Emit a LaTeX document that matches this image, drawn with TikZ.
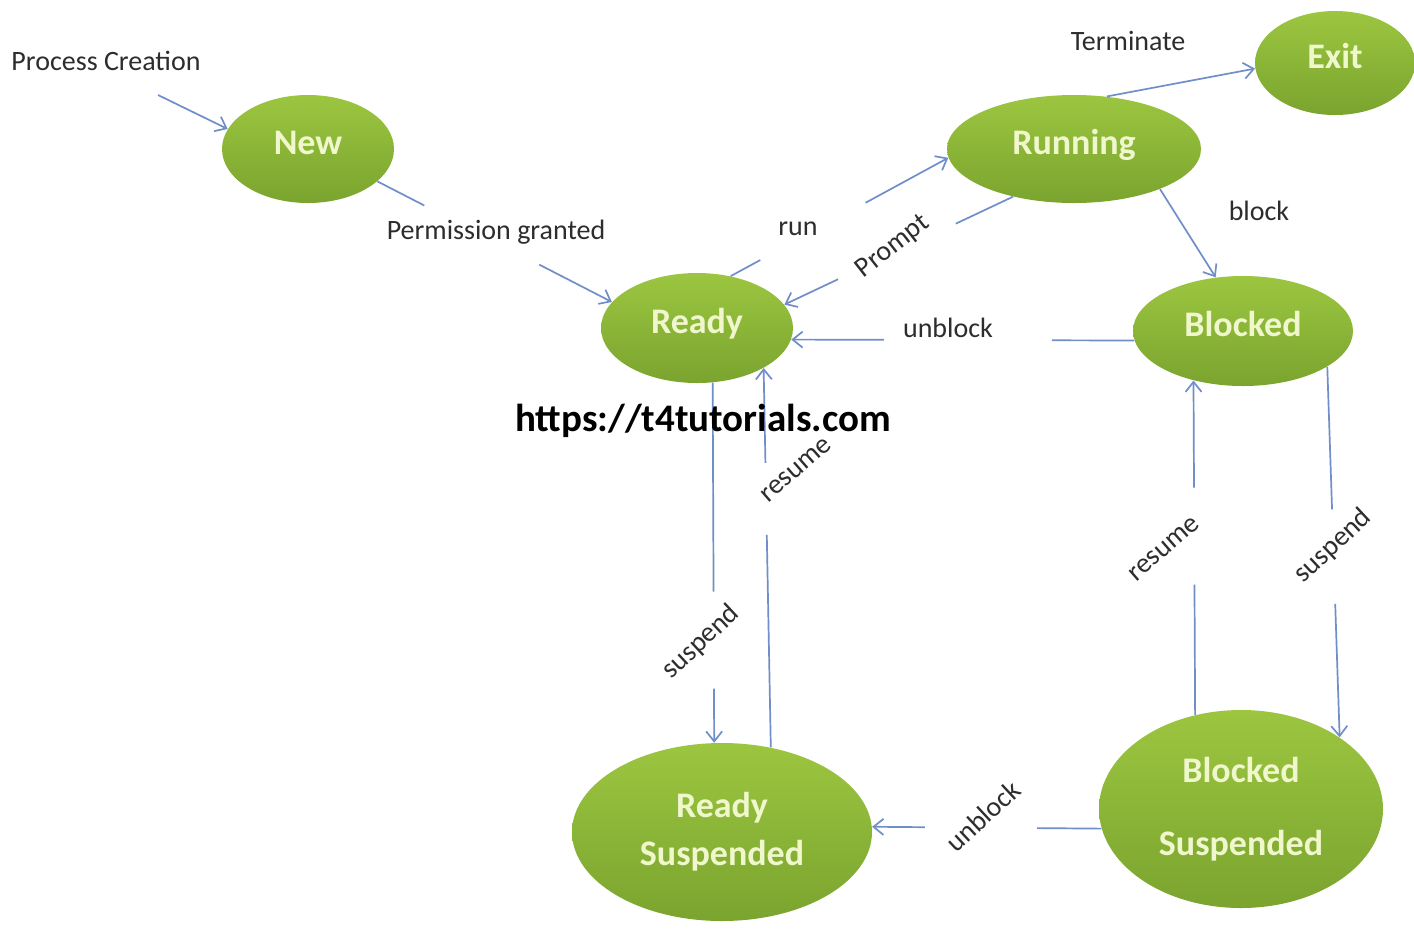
\documentclass[tikz,border=0pt]{standalone}
\usepackage{fontspec}
\setmainfont{Carlito}
\usetikzlibrary{arrows.meta,calc,shapes.geometric}
\definecolor{lineblue}{RGB}{112,142,202}
\definecolor{gtop}{RGB}{156,198,64}
\definecolor{gbot}{RGB}{122,164,46}
\definecolor{statetext}{RGB}{240,247,205}
\definecolor{labeltext}{RGB}{45,45,45}
\tikzset{
  state/.style={ellipse, inner sep=0pt, top color=gtop, bottom color=gbot,
    text=statetext, font=\fontsize{18}{24}\selectfont\bfseries, align=center},
  oneline/.style={text height=12pt, text depth=6.4pt},
  lbl/.style={text=labeltext, font=\fontsize{14}{16}\selectfont, inner sep=0pt},
  conn/.style={draw=lineblue, line width=0.85pt},
  arr/.style={conn, -{Straight Barb[length=5pt,width=8pt,line width=0.85pt]}},
}
\newcommand{\gapconn}[4]{%
  \draw[conn] (#1) -- ($(#1)!#3!(#2)$);
  \draw[arr] ($(#1)!#4!(#2)$) -- (#2);}
\begin{document}
\begin{tikzpicture}[x=0.5pt,y=-0.5pt]
\fill[white] (0,0) rectangle (1414,928);
\useasboundingbox (0,0) rectangle (1414,928);
% states
\node[state,oneline,minimum width=86pt,minimum height=54pt] (new) at (308,149) {New};
\node[state,oneline,minimum width=96pt,minimum height=55pt] (ready) at (697,328) {Ready};
\node[state,oneline,minimum width=127pt,minimum height=54pt] (running) at (1074,149) {Running};
\node[state,oneline,minimum width=80pt,minimum height=52pt] (exit) at (1335,63) {Exit};
\node[state,oneline,minimum width=110pt,minimum height=55pt] (blocked) at (1243,331) {Blocked};
\node[state,minimum width=150pt,minimum height=89pt] (rsusp) at (722,832) {Ready\\Suspended};
\node[state,minimum width=142pt,minimum height=99pt] (bsusp) at (1241,809) {Blocked\\[12.5pt]Suspended};
% labels
\node[lbl] (lpc) at (106,61) {Process Creation};
\node[lbl] (lperm) at (496,232) {Permission granted};
\node[lbl] (lrun) at (798,229) {run};
\node[lbl,rotate=38] (lprompt) at (893,247) {Prompt};
\node[lbl] (lterm) at (1128,41) {Terminate};
\node[lbl] (lblock) at (1259,211) {block};
\node[lbl] (lunb1) at (948,328) {unblock};
\node[lbl,rotate=43] (lsus1) at (701,642) {suspend};
\node[lbl,rotate=41] (lres1) at (796,470) {resume};
\node[lbl,rotate=41] (lres2) at (1164,549) {resume};
\node[lbl,rotate=43] (lsus2) at (1333,546) {suspend};
\node[lbl,rotate=43] (lunb2) at (983,816) {unblock};
% connectors
\coordinate (pc) at (158,95);
\draw[arr] (pc) -- (new.166);
\gapconn{new.-25}{ready.163}{0.2}{0.69}
\gapconn{ready.57}{running.184}{0.136}{0.62}
\gapconn{running.218}{ready.15}{0.25}{0.765}
\draw[arr] (running.58) -- (exit.184);
\draw[arr] (running.-25) -- (blocked.117);
\gapconn{blocked.185}{ready.-7}{0.24}{0.73}
\gapconn{ready.-74}{rsusp.95}{0.58}{0.85}
\gapconn{rsusp.60}{ready.-31}{0.56}{0.75}
\gapconn{blocked.-23}{bsusp.36}{0.385}{0.64}
\gapconn{bsusp.116}{blocked.225}{0.39}{0.68}
\gapconn{bsusp.188}{rsusp.2}{0.28}{0.77}
% watermark
\node[font=\fontsize{19.5}{22}\selectfont\bfseries] (url) at (703,421) {https://t4tutorials.com};
\end{tikzpicture}
\end{document}
